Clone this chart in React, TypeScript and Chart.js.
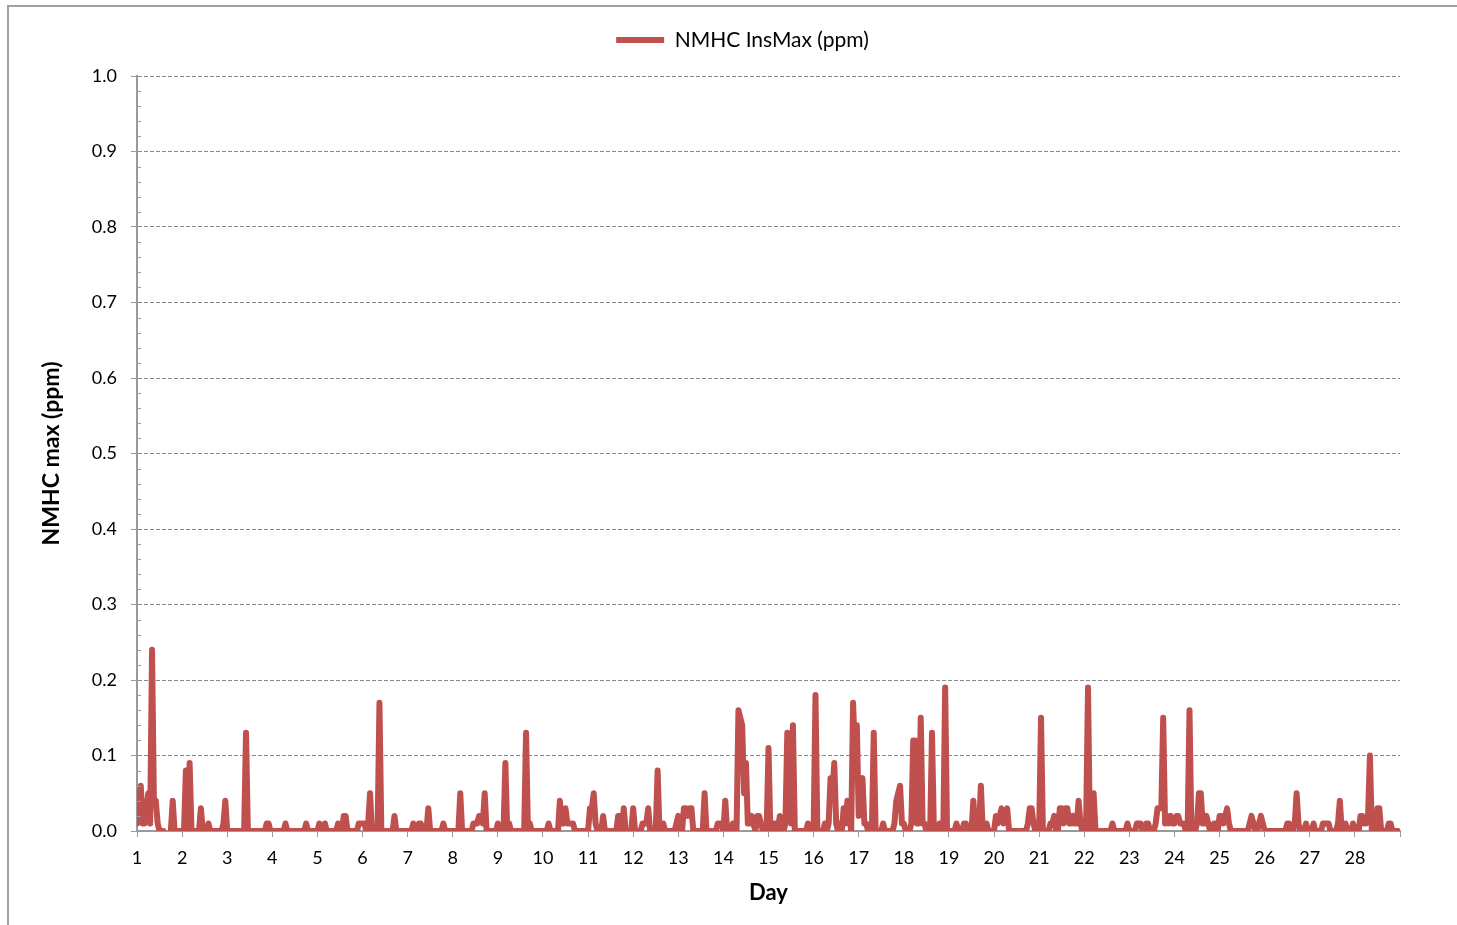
import React, { useEffect, useRef } from 'react';
import { Chart, registerables } from 'chart.js';

Chart.register(...registerables);

// ---- data (hourly NMHC max, ppm; one array of 24 hourly values per day) ----
const seriesLabel = 'NMHC InsMax (ppm)';
const xTitle = 'Day';
const yTitle = 'NMHC max (ppm)';
const dayTickLabels = [1, 2, 3, 4, 5, 6, 7, 8, 9, 10, 11, 12, 13, 14, 15, 16, 17, 18, 19, 20, 21, 22, 23, 24, 25, 26, 27, 28];
const yTickValues = [0, 0.1, 0.2, 0.3, 0.4, 0.5, 0.6, 0.7, 0.8, 0.9, 1.0];

const day01 = [0.01, 0.04, 0.06, 0.01, 0.01, 0.03, 0.05, 0.01, 0.24, 0.04, 0.04, 0.01, 0, 0, 0, null, null, null, 0, 0.04, 0, 0, 0, 0];
const day02 = [0, 0, 0.08, 0, 0.09, 0, 0, 0, 0, 0, 0.03, 0, 0, 0, 0.01, 0, 0, 0, 0, 0, 0, 0, 0.01, 0.04];
const day03 = [0, 0, 0, 0, 0, 0, 0, 0, 0, 0, 0.13, 0, 0, 0, 0, 0, 0, 0, 0, 0, 0, 0.01, 0.01, 0];
const day04 = [0, 0, 0, 0, 0, 0, 0, 0.01, 0, 0, 0, 0, 0, 0, 0, 0, 0, 0, 0.01, 0, 0, 0, 0, 0];
const day05 = [0, 0.01, 0, 0, 0.01, 0, 0, 0, 0, 0, 0, 0.01, 0, 0, 0.02, 0.02, 0, 0, 0, 0, 0, 0, 0.01, 0.01];
const day06 = [0.01, 0.01, 0, 0.01, 0.05, 0, 0, 0, 0, 0.17, 0, 0, 0, 0, 0, 0, 0, 0.02, 0, 0, 0, 0, 0, 0];
const day07 = [0, 0, 0, 0.01, 0, 0, 0.01, 0.01, 0, 0, 0, 0.03, 0, 0, 0, 0, 0, 0, 0, 0.01, 0, 0, 0, 0];
const day08 = [0, 0, 0, 0, 0.05, 0, 0, 0, 0, 0, 0, 0.01, 0.01, 0.01, 0.02, 0.02, 0.01, 0.05, 0, 0, 0, 0, 0, 0];
const day09 = [0.01, 0, 0, 0, 0.09, 0, 0.01, 0, 0, 0, 0, 0, 0, 0, 0, 0.13, 0, 0.01, 0, 0, 0, 0, 0, 0];
const day10 = [0, 0, 0, 0.01, 0, 0, 0, 0, 0, 0.04, 0.01, 0.01, 0.03, 0.01, 0.01, 0.01, 0.01, 0, 0, 0, 0, 0, 0, 0];
const day11 = [0, 0.03, 0.03, 0.05, 0.01, 0, 0, 0, 0.02, 0, 0, 0, 0, 0, 0, 0, 0.02, 0.02, 0, 0.03, 0, 0, 0, 0];
const day12 = [0.03, 0, 0, 0, 0, 0.01, 0.01, 0.01, 0.03, 0, 0, 0, 0, 0.08, 0, 0, 0.01, 0, 0, 0, 0, 0, 0, 0.01];
const day13 = [0.02, 0, 0, 0.03, 0.03, 0.02, 0.03, 0.03, 0, 0, 0, 0, 0, 0, 0.05, 0, 0, 0, 0, 0, 0, 0.01, 0.01, 0.01];
const day14 = [0, 0.04, 0, 0, 0, 0.01, 0, 0, 0.16, 0.15, 0.14, 0.05, 0.09, 0.01, 0.01, 0.02, 0.01, 0, 0.02, 0.02, 0.01, 0, 0, 0];
const day15 = [0.11, 0, 0, 0.01, 0.01, 0, 0.02, 0, 0, 0.01, 0.13, 0.02, 0.01, 0.14, 0, 0, 0, 0, 0, 0, 0, 0.01, 0, 0];
const day16 = [0, 0.18, 0, 0, 0, 0, 0.01, 0, 0.01, 0.07, 0.05, 0.09, 0.01, 0, 0.01, 0, 0.03, 0.01, 0.04, 0.02, 0, 0.17, 0.1, 0.14];
const day17 = [0.02, 0.06, 0.07, 0.01, 0.01, 0, 0, 0, 0.13, 0, 0, 0, 0, 0.01, 0, 0, 0, 0, 0, 0.01, 0.04, 0.05, 0.06, 0.01];
const day18 = [0.01, 0, 0, 0, 0.01, 0.12, 0.12, 0.01, 0.01, 0.15, 0.01, 0.01, 0, 0, 0, 0.13, 0, 0, 0, 0.01, 0, 0, 0.19, 0];
const day19 = [0, 0, 0, 0, 0.01, 0, 0, 0, 0.01, 0.01, 0, 0, 0, 0.04, 0, 0, 0, 0.06, 0, 0, 0.01, 0, 0, 0];
const day20 = [0, 0.02, 0.01, 0.02, 0.03, 0.01, 0.02, 0.03, 0, 0, 0, 0, 0, 0, 0, 0, 0, 0, 0.01, 0.03, 0.03, 0.01, 0, 0];
const day21 = [0, 0.15, 0, 0, 0, 0, 0.01, 0.01, 0.02, 0, 0, 0.03, 0.03, 0.01, 0.03, 0.03, 0.01, 0.01, 0.02, 0.01, 0.01, 0.04, 0.01, 0];
const day22 = [0, 0.01, 0.19, 0, 0, 0.05, 0, 0, 0, 0, 0, 0, 0, 0, 0, 0.01, 0, 0, 0, 0, 0, 0, 0, 0.01];
const day23 = [0, 0, 0, 0, 0.01, 0.01, 0.01, 0, 0, 0.01, 0.01, 0, 0, 0, 0.01, 0.03, 0.03, 0.03, 0.15, 0.01, 0.02, 0.01, 0.02, 0.01];
const day24 = [0.01, 0.02, 0.02, 0.01, 0.01, 0.01, 0, 0, 0.16, 0, 0, 0, 0.01, 0.05, 0.05, 0.01, 0.01, 0.02, 0.01, 0, 0, 0.01, 0.01, 0];
const day25 = [0.02, 0.02, 0.01, 0.02, 0.03, 0.01, 0, 0, 0, 0, 0, 0, 0, 0, 0, 0, 0.01, 0.02, 0.01, 0, 0, 0.01, 0.02, 0.01];
const day26 = [0, 0, 0, 0, 0, 0, 0, 0, 0, 0, 0, 0, 0.01, 0.01, 0, 0, 0.01, 0.05, 0.01, 0, 0, 0, 0.01, 0];
const day27 = [0, 0, 0.01, 0, 0, 0, 0, 0.01, 0.01, 0.01, 0.01, 0, 0, 0, 0, 0.01, 0.04, 0, 0, 0.01, 0, 0, 0, 0.01];
const day28 = [0, 0, 0, 0.02, 0.02, 0.01, 0.01, 0.02, 0.1, 0, 0, 0, 0.03, 0.03, 0, 0, 0, 0, 0.01, 0.01, 0, 0, 0, 0];

const days = [day01, day02, day03, day04, day05, day06, day07, day08, day09, day10, day11, day12, day13, day14,
  day15, day16, day17, day18, day19, day20, day21, day22, day23, day24, day25, day26, day27, day28];

const LINE_COLOR = '#C0504D';
const AXIS_COLOR = '#9a9a9a';
const GRID_COLOR = '#8a8a8a';
const FONT = 'Lato';
const LEGEND_SHIFT = -26;

const minorTicksPlugin = {
  id: 'minorTicks',
  afterDraw(chart: any) {
    const y = chart.scales.y;
    const ctx = chart.ctx;
    ctx.save();
    ctx.strokeStyle = AXIS_COLOR;
    ctx.lineWidth = 1;
    for (let i = 0; i <= 50; i++) {
      if (i % 5 === 0) continue;
      const py = Math.round(y.getPixelForValue(i * 0.02)) + 0.5;
      ctx.beginPath();
      ctx.moveTo(y.right, py);
      ctx.lineTo(y.right + 4, py);
      ctx.stroke();
    }
    ctx.restore();
  },
};

const legendShiftPlugin = {
  id: 'legendShift',
  afterLayout(chart: any) {
    const lg = chart.legend;
    if (lg) {
      lg.left += LEGEND_SHIFT;
      lg.right += LEGEND_SHIFT;
    }
  },
};

export default function App() {
  const ref = useRef<HTMLCanvasElement | null>(null);

  useEffect(() => {
    if (!ref.current) return;
    const points = days.flatMap((vals, d) =>
      vals.map((v, h) => ({ x: dayTickLabels[d] + h / 24, y: v }))
    );
    const chart = new Chart(ref.current, {
      type: 'line',
      data: {
        datasets: [
          {
            label: seriesLabel,
            data: points as any,
            borderColor: LINE_COLOR,
            backgroundColor: LINE_COLOR,
            borderWidth: 6,
            pointRadius: 0,
            pointHoverRadius: 0,
            tension: 0,
            borderJoinStyle: 'round',
            borderCapStyle: 'round',
            spanGaps: false,
            pointStyle: 'line',
          },
        ],
      },
      options: {
        responsive: false,
        animation: false,
        events: [],
        layout: { padding: { top: 12, right: 57, left: 0, bottom: 0 } },
        plugins: {
          tooltip: { enabled: false },
          legend: {
            display: true,
            position: 'top',
            fullSize: false,
            weight: 3000,
            labels: {
              usePointStyle: true,
              pointStyle: 'line',
              pointStyleWidth: 48,
              padding: 17.5,
              color: '#000',
              font: { family: FONT, size: 21 },
            },
          },
          title: {
            display: true,
            text: '',
            position: 'top',
            font: { size: 10, lineHeight: 1 },
            padding: { top: 0, bottom: 5.5 },
          },
        },
        scales: {
          x: {
            type: 'linear',
            min: 1,
            max: 29,
            afterFit: (s: any) => { s.height = 94; },
            ticks: {
              stepSize: 1,
              autoSkip: false,
              maxRotation: 0,
              padding: 10,
              color: '#000',
              font: { family: FONT, size: 18 },
              callback: (v: any) => (dayTickLabels.includes(Number(v)) ? String(v) : ''),
            },
            grid: {
              display: true,
              drawOnChartArea: false,
              drawTicks: true,
              tickLength: 6,
              tickColor: AXIS_COLOR,
              color: AXIS_COLOR,
            },
            border: { display: true, color: AXIS_COLOR, width: 2 },
            title: {
              display: true,
              text: xTitle,
              color: '#000',
              font: { family: FONT, size: 22, weight: 'bold', lineHeight: 1.2 },
              padding: { top: 0, bottom: 19 },
            },
          },
          y: {
            type: 'linear',
            min: 0,
            max: 1,
            afterFit: (s: any) => { s.width = 137; },
            afterBuildTicks: (s: any) => { s.ticks = yTickValues.map((v) => ({ value: v })); },
            ticks: {
              padding: 14,
              color: '#000',
              font: { family: FONT, size: 18 },
              callback: (v: any) => Number(v).toFixed(1),
            },
            grid: {
              color: GRID_COLOR,
              lineWidth: 1,
              drawTicks: true,
              tickLength: 6,
              tickColor: AXIS_COLOR,
              tickBorderDash: [],
            },
            border: { display: true, color: AXIS_COLOR, width: 2, dash: [4, 2] },
            title: {
              display: true,
              text: yTitle,
              color: '#000',
              font: { family: FONT, size: 23, weight: 'bold', lineHeight: 1.2 },
              padding: { top: 38, bottom: 0 },
            },
          },
        },
      },
      plugins: [minorTicksPlugin, legendShiftPlugin],
    });
    return () => chart.destroy();
  }, []);

  return (
    <div style={{ position: 'fixed', left: 0, top: 0, width: 1457, height: 925, overflow: 'hidden', background: '#fff' }}>
      <div
        style={{
          position: 'absolute',
          left: 7,
          top: 5,
          width: 1600,
          height: 1100,
          borderTop: '2px solid #a0a0a0',
          borderLeft: '2px solid #a0a0a0',
        }}
      />
      <canvas ref={ref} width={1457} height={925} style={{ position: 'absolute', left: 0, top: 0 }} />
    </div>
  );
}
